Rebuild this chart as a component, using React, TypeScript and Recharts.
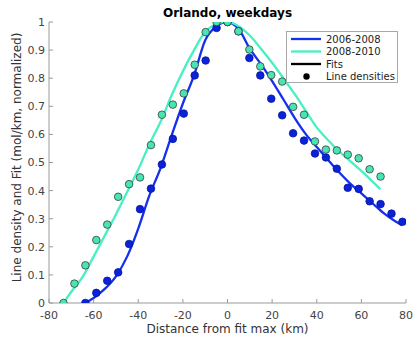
import { ComposedChart, Line, Scatter, XAxis, YAxis, Legend } from 'recharts';

const FONT = '"DejaVu Sans", sans-serif';

const BLUE = '#1430ee';
const CYAN = '#46f0c2';

// binned line densities, 2006-2008
const blueX = [-63.7, -58.8, -53.9, -49, -44.1, -39.2, -34.3, -29.4, -24.5, -19.6, -14.7, -9.8, -4.9, 0, 4.9, 9.8, 14.7, 19.6, 24.5, 29.4, 34.3, 39.2, 44.1, 49, 53.9, 58.8, 63.7, 68.6, 73.5, 78.4];
const blueY = [0, 0.036, 0.079, 0.109, 0.21, 0.334, 0.407, 0.493, 0.584, 0.674, 0.81, 0.863, 0.979, 1.0, 0.967, 0.872, 0.81, 0.727, 0.668, 0.604, 0.578, 0.532, 0.518, 0.478, 0.41, 0.406, 0.362, 0.352, 0.318, 0.289];

// binned line densities, 2008-2010
const cyanX = [-73.5, -68.6, -63.7, -58.8, -53.9, -49, -44.1, -39.2, -34.3, -29.4, -24.5, -19.6, -14.7, -9.8, -4.9, 0, 4.9, 9.8, 14.7, 19.6, 24.5, 29.4, 34.3, 39.2, 44.1, 49, 53.9, 58.8, 63.7, 68.6];
const cyanY = [0, 0.069, 0.134, 0.224, 0.279, 0.378, 0.423, 0.447, 0.562, 0.67, 0.706, 0.746, 0.848, 0.964, 1.0, 1.0, 0.967, 0.902, 0.842, 0.811, 0.788, 0.698, 0.67, 0.575, 0.546, 0.543, 0.528, 0.515, 0.476, 0.45];

// fitted curves
const blueFitX = [-63.7, -60, -55, -50, -45, -40, -35, -30, -25, -20, -15, -10, -5, -2, 0, 2, 5, 10, 15, 20, 25, 30, 35, 40, 45, 50, 55, 60, 65, 70, 75, 78.2];
const blueFitY = [0, 0.018, 0.05, 0.095, 0.165, 0.265, 0.383, 0.48, 0.597, 0.71, 0.81, 0.935, 0.985, 0.998, 1.0, 0.995, 0.975, 0.905, 0.85, 0.79, 0.725, 0.66, 0.602, 0.555, 0.51, 0.465, 0.425, 0.39, 0.355, 0.32, 0.292, 0.277];

const cyanFitX = [-73.5, -70, -65, -60, -55, -50, -45, -40, -35, -30, -25, -20, -15, -10, -5, -2, 0, 2, 5, 10, 15, 20, 25, 30, 35, 40, 45, 50, 55, 60, 65, 68.5];
const cyanFitY = [0, 0.04, 0.092, 0.165, 0.24, 0.315, 0.395, 0.475, 0.565, 0.645, 0.74, 0.825, 0.9, 0.965, 0.993, 1.0, 0.999, 0.997, 0.985, 0.952, 0.905, 0.855, 0.8, 0.745, 0.685, 0.625, 0.58, 0.54, 0.505, 0.47, 0.432, 0.405];

const xTicks = [-80, -60, -40, -20, 0, 20, 40, 60, 80];
const yTicks = [0, 0.1, 0.2, 0.3, 0.4, 0.5, 0.6, 0.7, 0.8, 0.9, 1];

const seriesNames = ['2006-2008', '2008-2010'];

const toPoints = (xs: number[], ys: number[]) => xs.map((x, i) => ({ x, y: ys[i] }));

const dotShape = (fill: string, stroke: string) => (props: any) => (
  <circle cx={props.cx} cy={props.cy} r={3.8} fill={fill} stroke={stroke} strokeWidth={0.8} />
);

const YLabel = (props: any) => {
  const { x, y, height } = props.viewBox;
  const cx = x + 2;
  const cy = y + height / 2 - 5;
  return (
    <text x={cx} y={cy} transform={`rotate(-90 ${cx} ${cy})`} textAnchor="middle" dominantBaseline="central"
      fontFamily={FONT} fontSize={12} fill="#333">
      Line density and Fit (mol/km, normalized)
    </text>
  );
};

const LegendBox = () => {
  const rows = [8, 20.5, 33, 45.5];
  return (
    <svg width={112} height={52} style={{ display: 'block' }}>
      <rect x={0.5} y={0.5} width={111} height={51} fill="#fff" stroke="#a8a8a8" />
      <line x1={5} x2={35} y1={rows[0]} y2={rows[0]} stroke={BLUE} strokeWidth={2.3} />
      <line x1={5} x2={35} y1={rows[1]} y2={rows[1]} stroke={CYAN} strokeWidth={2.3} />
      <line x1={5} x2={35} y1={rows[2]} y2={rows[2]} stroke="#000" strokeWidth={2.3} />
      <circle cx={20.5} cy={rows[3]} r={3.2} fill="#000" />
      {[seriesNames[0], seriesNames[1], 'Fits', 'Line densities'].map((t, i) => (
        <text key={t} x={40} y={rows[i]} dominantBaseline="central" fontFamily={FONT} fontSize={10} fill="#222">
          {t}
        </text>
      ))}
    </svg>
  );
};

export default function App() {
  const tickStyle = { fontFamily: FONT, fontSize: 11, fill: '#444' };
  return (
    <div style={{ position: 'absolute', left: 0, top: 0, width: 414, height: 341, background: '#fff' }}>
      <svg width={414} height={30} style={{ position: 'absolute', left: 0, top: 0 }}>
        <text x={227.5} y={16.5} textAnchor="middle" fontFamily={FONT} fontSize={12} fontWeight="bold" fill="#000">
          Orlando, weekdays
        </text>
      </svg>
      <ComposedChart width={414} height={341} margin={{ top: 22, right: 8, bottom: 8, left: 15 }}>
        <XAxis
          type="number"
          dataKey="x"
          domain={[-80, 80]}
          ticks={xTicks}
          allowDataOverflow
          height={30}
          tick={tickStyle}
          tickSize={-4}
          tickMargin={12}
          stroke="#9a9a9a"
          label={{ value: 'Distance from fit max (km)', position: 'insideBottom', offset: 0, fontFamily: FONT, fontSize: 12, fill: '#333' }}
        />
        <YAxis
          type="number"
          dataKey="y"
          domain={[0, 1]}
          ticks={yTicks}
          allowDataOverflow
          width={34}
          tick={tickStyle}
          tickSize={-4}
          tickMargin={8}
          stroke="#9a9a9a"
          label={<YLabel />}
        />
        <Legend
          layout="horizontal"
          verticalAlign="middle"
          align="center"
          content={() => <LegendBox />}
          wrapperStyle={{ left: 286, top: 31, width: 112, height: 52 }}
        />
        <Line data={toPoints(blueFitX, blueFitY)} dataKey="y" type="monotone" stroke={BLUE} strokeWidth={2.3} dot={false} isAnimationActive={false} />
        <Line data={toPoints(cyanFitX, cyanFitY)} dataKey="y" type="monotone" stroke={CYAN} strokeWidth={2.3} dot={false} isAnimationActive={false} />
        <Scatter data={toPoints(blueX, blueY)} dataKey="y" shape={dotShape('#0a22d8', '#0615a0')} isAnimationActive={false} />
        <Scatter data={toPoints(cyanX, cyanY)} dataKey="y" shape={dotShape('#48e4b4', '#3c3c3c')} isAnimationActive={false} />
      </ComposedChart>
    </div>
  );
}
